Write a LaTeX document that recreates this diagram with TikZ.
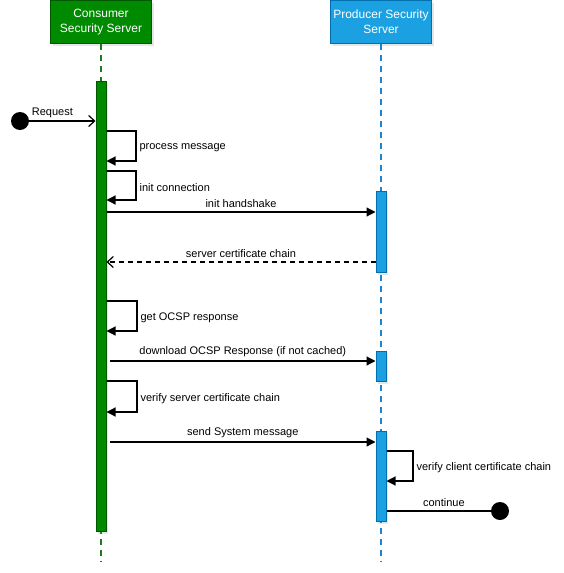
\documentclass[tikz,border=0pt]{standalone}
\usepackage{fontspec}
\setmainfont{Liberation Sans}
\usetikzlibrary{arrows.meta,positioning,shadows}

\definecolor{consfill}{HTML}{008A00}
\definecolor{consdraw}{HTML}{005700}
\definecolor{conslife}{HTML}{1F7A1F}
\definecolor{prodfill}{HTML}{1BA1E2}
\definecolor{proddraw}{HTML}{006EAF}
\definecolor{prodlife}{HTML}{1A86CF}

\begin{document}
\begin{tikzpicture}[
  x=1pt, y=-1pt,
  node distance=37pt and 178pt,
  head/.style={rectangle, line width=1pt, text=white, align=center,
               minimum width=101pt, minimum height=43pt, inner sep=2pt,
               font=\fontsize{12}{15}\selectfont,
               drop shadow={shadow xshift=2pt, shadow yshift=-2pt, opacity=0.2}},
  bar/.style={rectangle, line width=1pt, minimum width=10pt, inner sep=0pt,
              drop shadow={shadow xshift=2pt, shadow yshift=-2pt, opacity=0.2}},
  life/.style={line width=1.5pt, dash pattern=on 6pt off 5pt},
  msg/.style={-{Triangle[length=9pt,width=9pt]}, line width=1.2pt},
  call/.style={-{Straight Barb[length=6pt,width=11pt]}, line width=1.2pt},
  reply/.style={call, dash pattern=on 5pt off 4pt},
  lbl/.style={font=\fontsize{11}{13}\selectfont, inner sep=1pt},
  side/.style={lbl, right=2pt, yshift=-2pt},
  dot/.style={circle, fill=black, minimum size=18pt, inner sep=0pt}
]
\useasboundingbox (0,0) rectangle (563,573);

\node[head, fill=consfill, draw=consdraw] (consumer) at (101,22) {Consumer\\Security Server};
\node[head, fill=prodfill, draw=proddraw, right=of consumer] (producer) {Producer Security\\Server};

\coordinate (cend) at (101,562);
\coordinate (pend) at (381,562);
\draw[life, draw=conslife] (consumer) -- (cend);
\draw[life, draw=prodlife] (producer) -- (pend);

\node[bar, fill=consfill, draw=consdraw, minimum height=450pt, below=of consumer] (cbar) {};
\node[bar, fill=prodfill, draw=proddraw, minimum height=81pt, anchor=north] (pbar1) at (381,191) {};
\node[bar, fill=prodfill, draw=proddraw, minimum height=30pt, anchor=north] (pbar2) at (381,351) {};
\node[bar, fill=prodfill, draw=proddraw, minimum height=90pt, anchor=north] (pbar3) at (381,431) {};

\node[dot] (start) at (20,121) {};
\node[dot] (stop) at (500,511) {};

\coordinate (process) at (136,131);
\coordinate (processed) at (136,161);
\coordinate (connect) at (136,171);
\coordinate (connected) at (136,200);
\coordinate (handshake) at (240,212);
\coordinate (certs) at (240,262);
\coordinate (getocsp) at (137,301);
\coordinate (gotocsp) at (137,331);
\coordinate (download) at (110,361);
\coordinate (verify) at (137,381);
\coordinate (verified) at (137,412);
\coordinate (send) at (110,442);
\coordinate (client) at (413,451);
\coordinate (clientok) at (413,481);

\draw[call] (start) -- (cbar.west |- start) node[lbl, above=1.5pt, pos=0.35] {Request};
\draw[msg] (cbar.east |- process) -- (process) -- node[side] {process message} (processed) -- (cbar.east |- processed);
\draw[msg] (cbar.east |- connect) -- (connect) -- node[side] {init connection} (connected) -- (cbar.east |- connected);
\draw[msg] (cbar.east |- handshake) -- node[lbl, above=3pt] {init handshake} (pbar1.west |- handshake);
\draw[reply] (pbar1.west |- certs) -- node[lbl, above=3pt] {server certificate chain} (cbar.east |- certs);
\draw[msg] (cbar.east |- getocsp) -- (getocsp) -- node[side] {get OCSP response} (gotocsp) -- (cbar.east |- gotocsp);
\draw[msg] (download) -- node[lbl, above=3pt] {download OCSP Response (if not cached)} (pbar2.west |- download);
\draw[msg] (cbar.east |- verify) -- (verify) -- node[side] {verify server certificate chain} (verified) -- (cbar.east |- verified);
\draw[msg] (send) -- node[lbl, above=3pt] {send System message} (pbar3.west |- send);
\draw[msg] (pbar3.east |- client) -- (client) -- node[side] {verify client certificate chain} (clientok) -- (pbar3.east |- clientok);
\draw[line width=1.2pt] (pbar3.east |- stop) -- node[lbl, above=3pt, pos=0.55] {continue} (stop);

\end{tikzpicture}
\end{document}
